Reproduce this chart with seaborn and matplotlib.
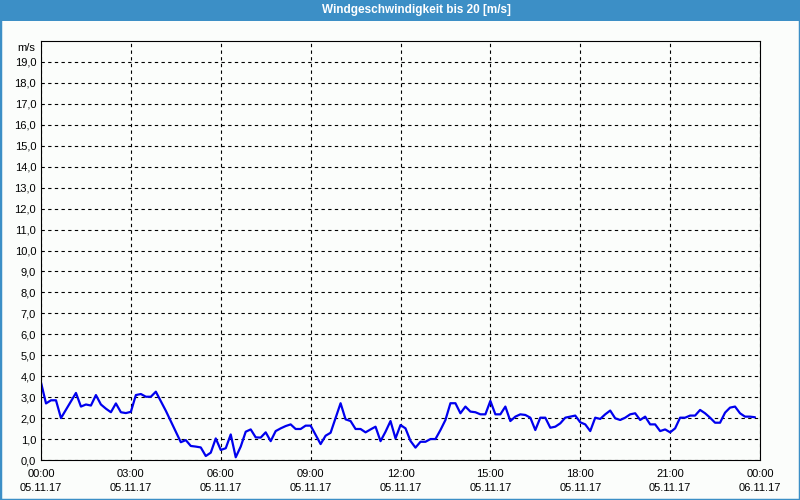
import matplotlib
matplotlib.use("Agg")
import matplotlib.pyplot as plt
import matplotlib.dates as mdates
from matplotlib.patches import Rectangle
import matplotlib.ticker as mticker
import numpy as np
import pandas as pd
import seaborn as sns

# ---- data (10-minute wind speed readings, 05.11.17) ----
start = "2017-11-05 00:00"
end = "2017-11-06 00:00"
speed = [
    3.7, 2.7, 2.85, 2.85, 2.0, 2.4, 2.8, 3.2, 2.55, 2.65, 2.6, 3.1, 2.65, 2.45, 2.28, 2.7,
    2.28, 2.24, 2.3, 3.1, 3.15, 3.02, 3.02, 3.26, 2.8, 2.35, 1.85, 1.35, 0.85, 0.95, 0.67, 0.64,
    0.6, 0.19, 0.35, 1.03, 0.48, 0.56, 1.22, 0.13, 0.64, 1.35, 1.46, 1.08, 1.07, 1.32, 0.9, 1.38,
    1.51, 1.62, 1.70, 1.48, 1.48, 1.64, 1.64, 1.2, 0.76, 1.16, 1.30, 2.0, 2.71, 1.94, 1.86, 1.48,
    1.48, 1.32, 1.46, 1.59, 0.9, 1.35, 1.86, 1.03, 1.67, 1.51, 0.91, 0.59, 0.87, 0.87, 1.0, 1.0,
    1.43, 1.91, 2.71, 2.71, 2.23, 2.55, 2.31, 2.28, 2.18, 2.18, 2.82, 2.18, 2.18, 2.55, 1.86, 2.07,
    2.18, 2.15, 2.02, 1.43, 2.02, 2.02, 1.54, 1.59, 1.75, 2.02, 2.07, 2.12, 1.80, 1.70, 1.38, 2.02,
    1.96, 2.18, 2.36, 1.99, 1.91, 2.02, 2.18, 2.23, 1.91, 2.07, 1.70, 1.70, 1.38, 1.46, 1.32, 1.51,
    2.02, 2.02, 2.12, 2.12, 2.39, 2.23, 2.02, 1.78, 1.78, 2.26, 2.50, 2.55, 2.23, 2.07, 2.07, 2.04,
]
y_ticks = list(range(0, 20))
y_tick_labels = [f"{v},0" for v in y_ticks]
title = "Windgeschwindigkeit bis 20 [m/s]"
unit = "m/s"

times = pd.date_range(start, periods=len(speed), freq="10min")
df = pd.DataFrame({"Zeit": times, "Wind": speed})

sns.set_style("white")
plt.rcParams["font.family"] = ["Liberation Sans", "DejaVu Sans"]

bg = "#fbfdfb"
bar = "#3c8fc6"

fig = plt.figure(figsize=(8, 5), dpi=100, facecolor=bg)
ax = fig.add_axes([41 / 800, 40 / 500, 719 / 800, 419 / 500])
ax.set_facecolor(bg)

sns.lineplot(data=df, x="Zeit", y="Wind", color="#0000ee", linewidth=1.6, ax=ax)

ax.set_xlim(pd.Timestamp(start), pd.Timestamp(end))
ax.set_ylim(0, 20)
ax.set_xlabel("")
ax.set_ylabel("")

ax.set_yticks(y_ticks)
ax.set_yticklabels(y_tick_labels)

ax.xaxis.set_major_locator(mdates.HourLocator(byhour=range(0, 24, 3)))
ax.xaxis.set_major_formatter(mdates.DateFormatter("%H:%M\n%d.%m.%y"))
minor = pd.date_range(start, end, freq="90min")
ax.xaxis.set_minor_locator(mticker.FixedLocator(mdates.date2num(minor)))

ax.grid(True, which="major", color="black", linestyle=(0, (3, 3)), linewidth=0.8)
ax.tick_params(axis="y", length=0, pad=3.5, labelsize=8, colors="black")
ax.tick_params(axis="x", which="both", length=3, width=0.8, direction="out",
               pad=3.5, labelsize=8, colors="black")
for lbl in ax.get_xticklabels():
    lbl.set_linespacing(1.5)

for s in ax.spines.values():
    s.set_visible(True)
    s.set_color("black")
    s.set_linewidth(0.8)

ax.annotate(unit, xy=(0, 20), xycoords=("axes fraction", "data"),
            xytext=(-4, -5), textcoords="offset points",
            ha="right", va="center", fontsize=8, color="black")

# title bar and frame
fig.add_artist(Rectangle((0, 1 - 21 / 500), 1, 21 / 500, transform=fig.transFigure,
                         facecolor=bar, edgecolor="none", zorder=0))
fig.add_artist(Rectangle((0, 0), 1, 1, transform=fig.transFigure, fill=False,
                         edgecolor=bar, linewidth=2.5, zorder=5))
fig.text(416 / 800, 1 - 10.5 / 500, title, color="white", fontsize=8.5,
         fontweight="bold", ha="center", va="center")

fig.savefig("out.png", dpi=100, facecolor=bg)
